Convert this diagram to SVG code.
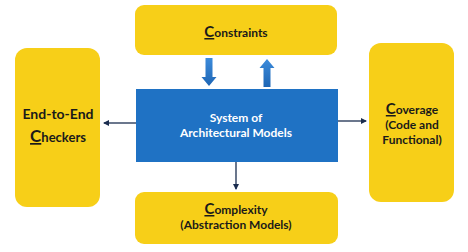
<svg xmlns="http://www.w3.org/2000/svg" width="468" height="252" viewBox="0 0 468 252">
<defs>
<style>
.box{fill:#F7CF18;}
.main{fill:#1F72C4;}
text{font-family:Lato,"Open Sans","Liberation Sans",sans-serif;font-weight:bold;text-anchor:middle;}
.dk{fill:#1a1a1a;font-size:12px;}
.big{font-size:15px;}
.wt{fill:#ffffff;font-size:12px;}
.lbl{fill:#1a1a1a;font-size:14px;}
.con{stroke:#1B2D4F;stroke-width:1.3;fill:none;}
.blk{fill:#2A7BCF;}
</style>
<marker id="ah" markerWidth="6" markerHeight="6" refX="5" refY="3" orient="auto" markerUnits="userSpaceOnUse">
<path d="M0,0 L6,3 L0,6 Z" fill="#1B2D4F"/>
</marker>
<linearGradient id="bg" x1="0" y1="0" x2="0" y2="1">
<stop offset="0" stop-color="#3C8BDB"/>
<stop offset="1" stop-color="#1E66B5"/>
</linearGradient>
</defs>
<g id="constraints">
<rect class="box" x="135" y="5" width="202" height="50" rx="9"/>
<text class="dk" x="236" y="37"><tspan class="big" text-decoration="underline">C</tspan>onstraints</text>
</g>
<g id="system">
<rect class="main" x="136" y="89" width="202" height="73"/>
<text class="wt" x="236" y="122">System of</text>
<text class="wt" x="236" y="137">Architectural Models</text>
</g>
<g id="complexity">
<rect class="box" x="135" y="192" width="203" height="52" rx="9"/>
<text class="dk" x="236" y="214"><tspan class="big" text-decoration="underline">C</tspan>omplexity</text>
<text class="dk" x="236" y="229">(Abstraction Models)</text>
</g>
<g id="checkers">
<rect class="box" x="15" y="48" width="85" height="159" rx="12"/>
<text class="lbl" x="58" y="119">End-to-End</text>
<text class="lbl" x="58" y="142"><tspan font-size="17px" text-decoration="underline">C</tspan><tspan font-size="13px">heckers</tspan></text>
</g>
<g id="coverage">
<rect class="box" x="369" y="43" width="85" height="159" rx="12"/>
<text class="dk" x="412" y="114"><tspan class="big" text-decoration="underline">C</tspan>overage</text>
<text class="dk" x="412" y="129">(Code and</text>
<text class="dk" x="412" y="144">Functional)</text>
</g>
<g id="connectors">
<path fill="url(#bg)" d="M205.5,58 h7 v19 h4 l-7.5,9 l-7.5,-9 h4 Z"/>
<path fill="url(#bg)" d="M263.5,87 h7 v-19 h4 l-7.5,-9 l-7.5,9 h4 Z"/>
<line class="con" x1="136" y1="123" x2="104" y2="123" marker-end="url(#ah)"/>
<line class="con" x1="338" y1="121" x2="366" y2="121" marker-end="url(#ah)"/>
<line class="con" x1="236" y1="162" x2="236" y2="189" marker-end="url(#ah)"/>
</g>
</svg>
